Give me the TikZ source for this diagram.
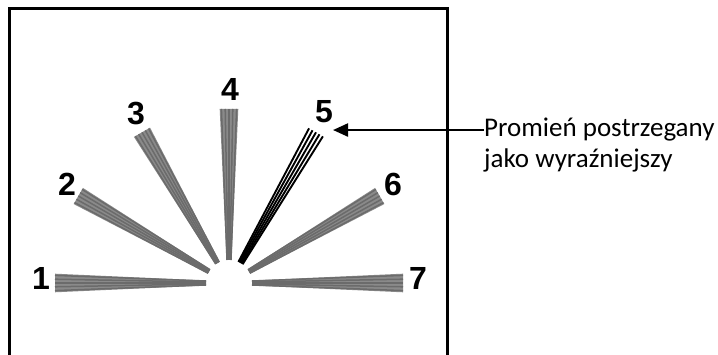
\documentclass[tikz,border=0pt]{standalone}
\usepackage{fontspec}
\setmainfont{Carlito}
\newfontfamily\digitfont{Liberation Sans}
\usepackage{tikz}
\usepackage{xcolor}
\usetikzlibrary{arrows.meta, positioning, calc}
\tikzstyle{raynum} = [font=\digitfont\bfseries\fontsize{32}{32}\selectfont, inner sep=0pt]
\tikzstyle{caption} = [font=\fontsize{27}{31}\selectfont, inner sep=0pt, anchor=base west]
\tikzstyle{arrow} = [line width=2.2pt, -{Triangle[length=15pt, width=13pt]}]
\tikzstyle{grayline} = [black!58, line width=1.5pt]
\tikzstyle{sharpline} = [black, line width=1.9pt]

\begin{document}
\begin{tikzpicture}[x=1pt, y=1pt]
    \useasboundingbox (0,0) rectangle (718,355);

    % Outline of the test chart
    \draw[line width=3pt] (9,-10) -- (9,346) -- (447,346) -- (447,-10);

    % Centre of the fan
    \coordinate (fan) at (229,72);

    % Blurred rays
    \foreach \ang in {0,30,90,120,150,180} {
        \fill[black!46] ($(fan)+(\ang:23)+(\ang+90:2.5)$) -- ($(fan)+(\ang:174)+(\ang+90:9.3)$)
            -- ($(fan)+(\ang:174)+(\ang-90:9.3)$) -- ($(fan)+(\ang:23)+(\ang-90:2.5)$) -- cycle;
        \foreach \k in {-2,...,2}
            \draw[grayline] ($(fan)+(\ang:23)+(\ang+90:\k*1)$) -- ($(fan)+(\ang:174)+(\ang+90:\k*3.8)$);
    }

    % Sharp ray
    \foreach \k in {-2,...,2}
        \draw[sharpline] ($(fan)+(60:23)+(150:\k*1.2)$) -- ($(fan)+(60:174)+(150:\k*4)$);

    % Ray numbers
    \foreach \num/\px/\py in {1/41/76.5, 2/67/171, 3/136/241.5, 4/230/266, 5/324/243, 6/393/171, 7/418/77}
        \node[raynum] (n\num) at (\px,\py) {\num};

    % Caption and pointer
    \node[caption] (lblA) at (484,218) {Promień postrzegany};
    \node[caption] (lblB) at (484,187) {jako wyraźniejszy};
    \coordinate (tip5) at (333,224);
    \draw[arrow] (lblA.west) -- (lblA.west -| tip5);
\end{tikzpicture}
\end{document}
